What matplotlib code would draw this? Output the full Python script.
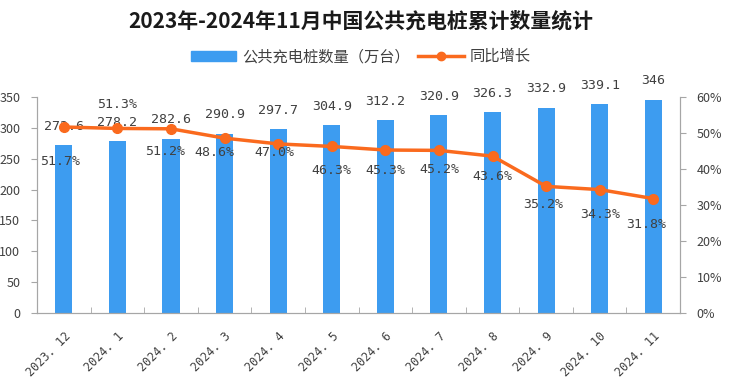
import matplotlib
matplotlib.use("Agg")
import matplotlib.pyplot as plt
from matplotlib.patches import Patch
from matplotlib.lines import Line2D
from matplotlib.ticker import FuncFormatter

plt.rcParams['font.family'] = ['Noto Sans CJK SC', 'DejaVu Sans']

# data
months = ['2023. 12', '2024. 1', '2024. 2', '2024. 3', '2024. 4', '2024. 5',
          '2024. 6', '2024. 7', '2024. 8', '2024. 9', '2024. 10', '2024. 11']
piles = [272.6, 278.2, 282.6, 290.9, 297.7, 304.9, 312.2, 320.9, 326.3, 332.9, 339.1, 346]
growth = [51.7, 51.3, 51.2, 48.6, 47.0, 46.3, 45.3, 45.2, 43.6, 35.2, 34.3, 31.8]

# label offsets for the growth labels (points), tuned by eye
pct_dx = [-3, 0, -4, -7, -3, 0, 0, 0, 0, -2, 0, -5]
pct_dy = [-25, 17, -16, -10, -6, -17, -15, -14, -15, -13, -18, -19]

bar_color = '#3d9cf0'
line_color = '#fa6a1e'
text_color = '#404040'
axis_color = '#a6a6a6'
mono = 'DejaVu Sans Mono'

fig = plt.figure(figsize=(7.36, 3.78), dpi=100)
ax = fig.add_axes([0.0503, 0.172, 0.8737, 0.571])
ax2 = ax.twinx()

x = list(range(len(months)))
ax.bar(x, piles, width=0.32, color=bar_color, zorder=2)
ax.set_xlim(-0.5, len(months) - 0.5)
ax.set_ylim(0, 350)
ax.set_yticks(range(0, 351, 50))

for xi, v in zip(x, piles):
    ax.annotate(f'{v:g}', (xi, v), xytext=(0, 13.5), textcoords='offset points',
                ha='center', va='center', fontsize=9.5, family=mono, color=text_color)

ax2.plot(x, growth, color=line_color, lw=2.5, marker='o', ms=7, zorder=3)
ax2.set_ylim(0, 60)
ax2.set_yticks(range(0, 61, 10))
ax2.yaxis.set_major_formatter(FuncFormatter(lambda v, p: f'{v:.0f}%'))

for xi, g, dx, dy in zip(x, growth, pct_dx, pct_dy):
    ax2.annotate(f'{g:.1f}%', (xi, g), xytext=(dx, dy), textcoords='offset points',
                 ha='center', va='center', fontsize=9.5, family=mono, color=text_color)

# x axis: tick marks between categories, labels at the categories
ax.set_xticks(x)
ax.set_xticklabels(months, rotation=45, ha='right', rotation_mode='anchor',
                   family=mono, fontsize=8.5, color=text_color)
ax.tick_params(axis='x', which='major', length=0, pad=12)
ax.set_xticks([i + 0.5 for i in x[:-1]], minor=True)
ax.tick_params(axis='x', which='minor', direction='in', length=4, color=axis_color)

ax.tick_params(axis='y', length=4, color=axis_color, labelsize=9, labelcolor=text_color, pad=8)
ax2.tick_params(axis='y', length=4, color=axis_color, labelsize=9, labelcolor=text_color, pad=8)

for a in (ax, ax2):
    a.spines['top'].set_visible(False)
    for s in ('left', 'right', 'bottom'):
        a.spines[s].set_color(axis_color)

fig.text(0.49, 0.945, '2023年-2024年11月中国公共充电桩累计数量统计', ha='center', va='center',
         fontsize=15, fontweight='bold', color='#1a1a1a')

handles = [Patch(color=bar_color),
           Line2D([0], [0], color=line_color, lw=2.5, marker='o', ms=6)]
fig.legend(handles, ['公共充电桩数量（万台）', '同比增长'], loc='center',
           bbox_to_anchor=(0.49, 0.85), ncol=2, frameon=False, fontsize=11,
           labelcolor=text_color, handlelength=3, handleheight=0.6,
           columnspacing=0.5, handletextpad=0.4)

fig.savefig('out.png', dpi=100)
